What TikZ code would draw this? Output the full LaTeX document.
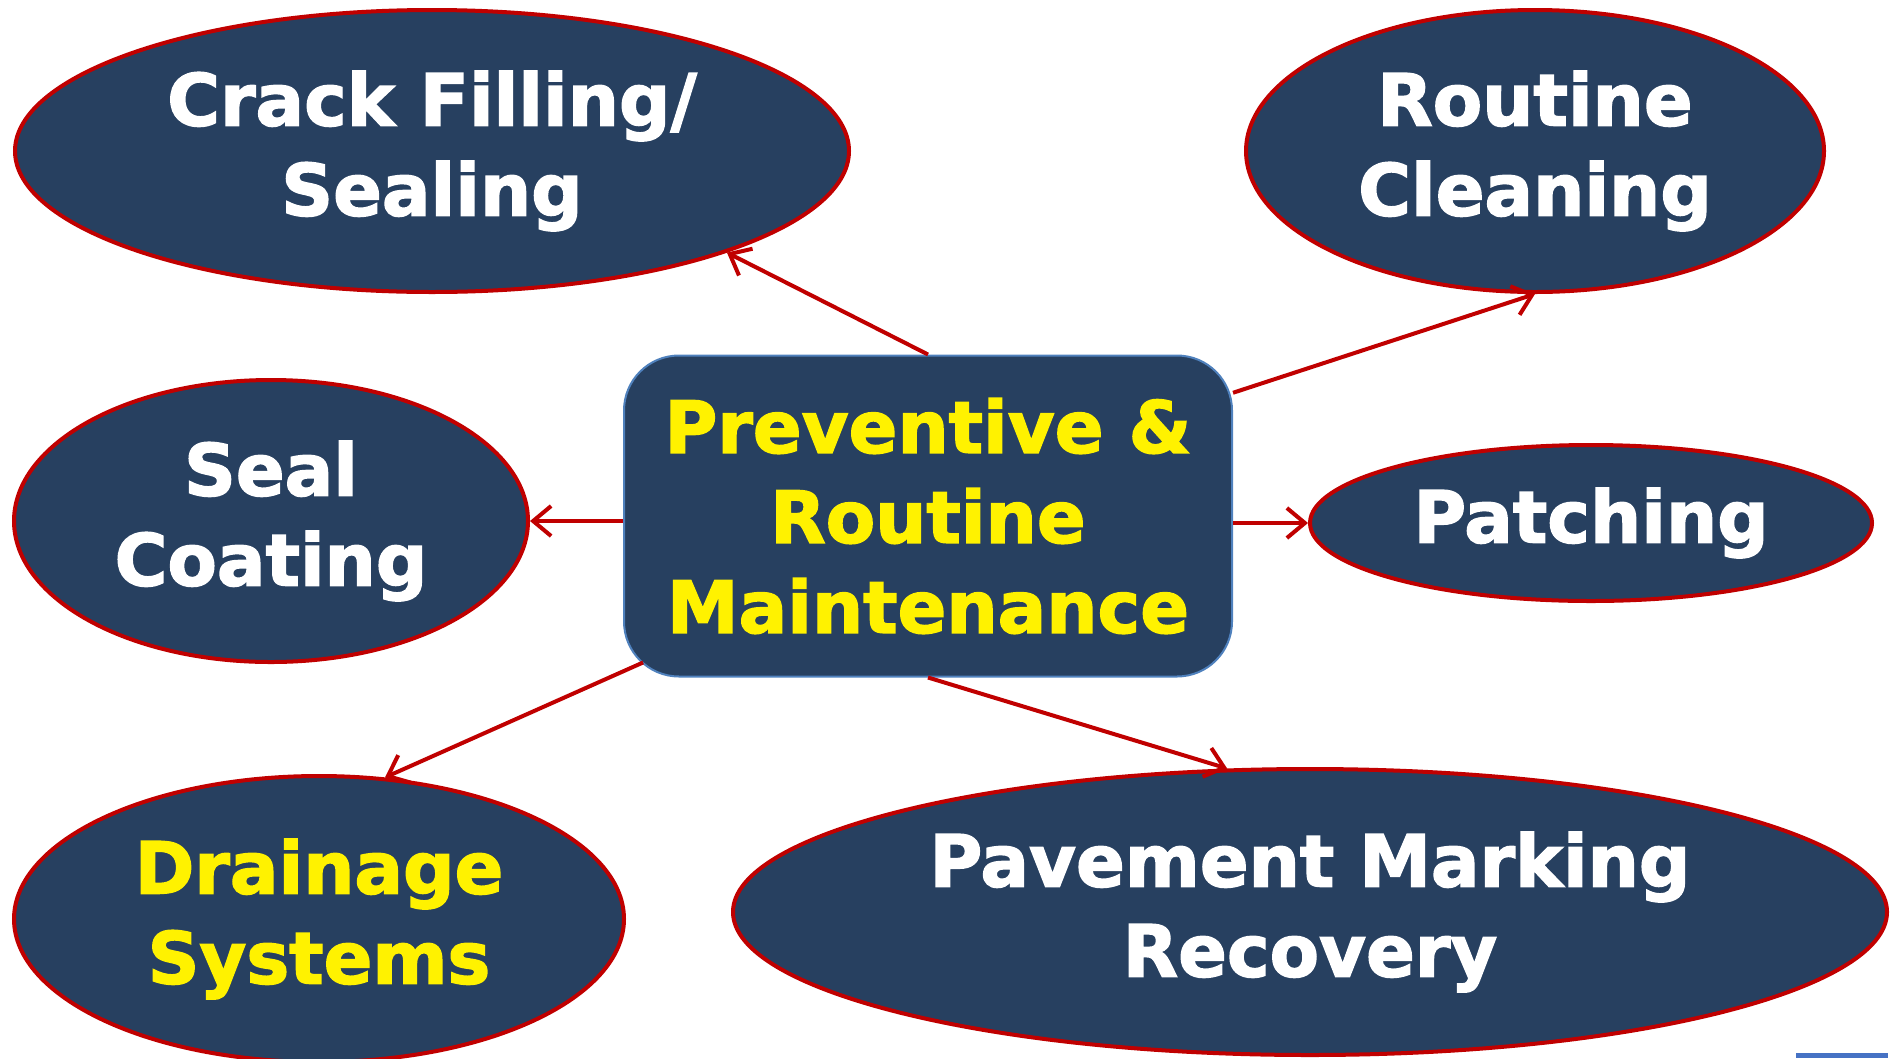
\documentclass[tikz,border=0pt]{standalone}
\usepackage{fontspec}
\setmainfont{DejaVu Sans}[BoldFeatures={FakeBold=2}]
\usepackage{tikz}
\usetikzlibrary{shapes.geometric,arrows.meta}
\definecolor{navy}{RGB}{39,64,96}
\definecolor{dkred}{RGB}{192,0,0}
\definecolor{boxblue}{RGB}{79,129,189}
\definecolor{barblue}{RGB}{70,114,196}
\newcommand{\topicfont}{\fontsize{72}{90}\selectfont\bfseries}
\tikzset{
  topic/.style={ellipse, draw=dkred, line width=4pt, fill=navy, text=white,
    font=\topicfont, align=center, inner sep=0pt},
  hub/.style={rectangle, rounded corners=55pt, draw=boxblue, line width=2pt,
    fill=navy, text=yellow, font=\topicfont, align=center, inner sep=0pt,
    minimum width=608pt, minimum height=321pt},
  link/.style={draw=dkred, line width=4pt, -{Straight Barb[length=18pt,width=30pt]}}
}
\begin{document}
\begin{tikzpicture}[x=1pt, y=-1pt]
    \useasboundingbox (0,0) rectangle (1897,1058);
    \node[hub] (box) at (928,516) {Preventive \&\\Routine\\Maintenance};
    \node[topic, minimum width=834pt, minimum height=282pt] (crack) at (432,151) {Crack Filling/\\Sealing};
    \node[topic, minimum width=578pt, minimum height=282pt] (clean) at (1535,151) {Routine\\Cleaning};
    \node[topic, minimum width=514pt, minimum height=282pt] (seal) at (271,521) {Seal\\Coating};
    \node[topic, minimum width=562pt, minimum height=156pt] (patch) at (1591,523) {Patching};
    \node[topic, minimum width=610pt, minimum height=286pt, text=yellow] (drain) at (319,919) {Drainage\\Systems};
    \node[topic, minimum width=1154pt, minimum height=286pt] (pave) at (1310,912) {Pavement Marking\\Recovery};
    % connectors from the hub
    \draw[link] (box.north) -- (crack.-19);
    \draw[link] (box.22) -- (clean.south);
    \draw[link] (box.west |- seal.east) -- (seal.east);
    \draw[link] (box.east |- patch.west) -- (patch.west);
    \draw[link, shorten <=-22pt] (box.207) -- (drain.65);
    \draw[link] (box.south) -- (pave.120);
    \fill[barblue] (1796,1053) rectangle (1888,1058);
\end{tikzpicture}
\end{document}
